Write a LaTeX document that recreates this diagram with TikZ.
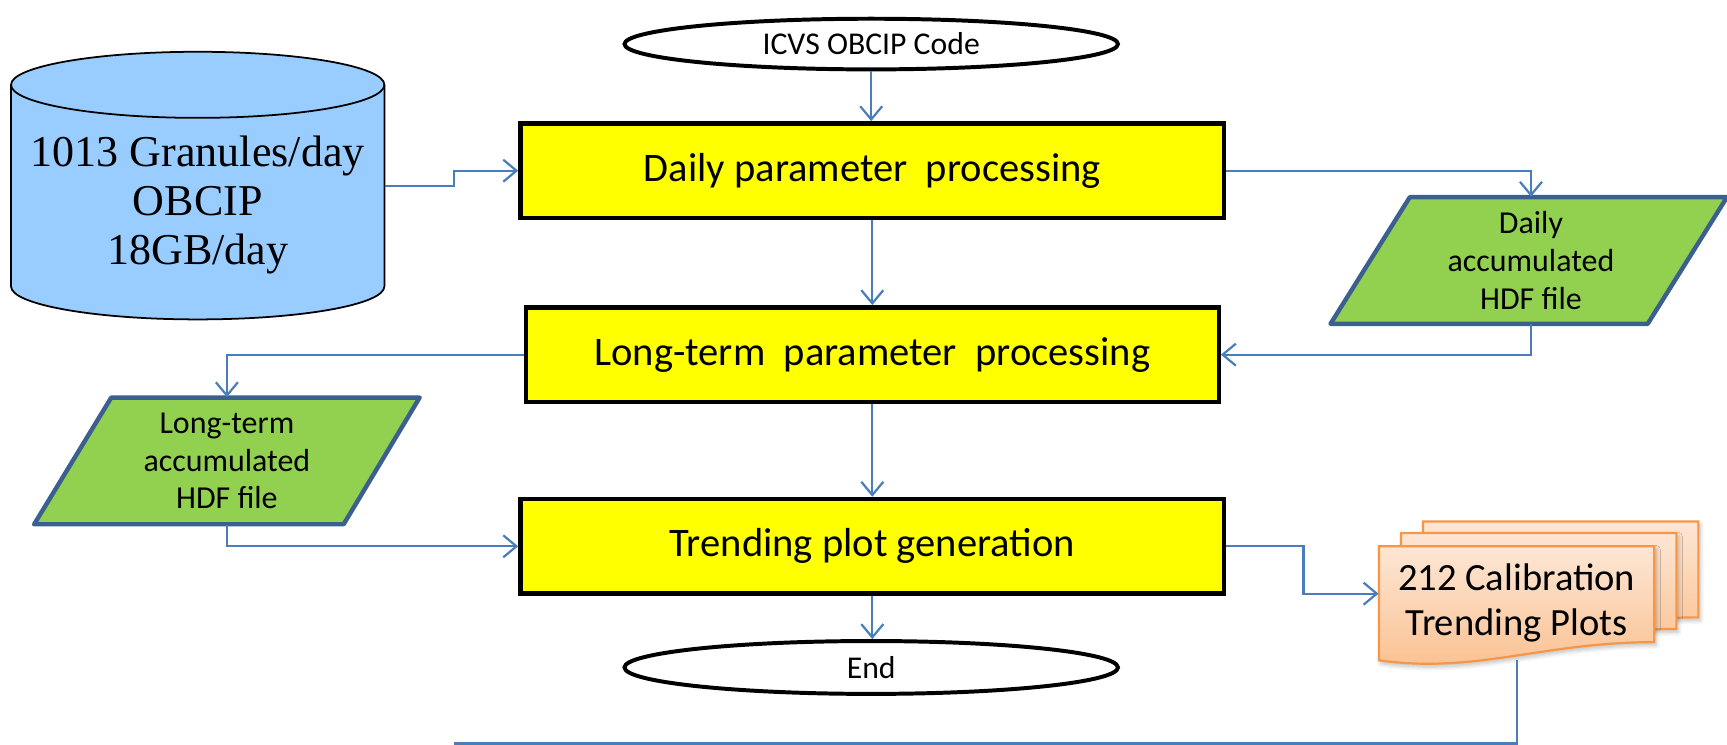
\documentclass[tikz,border=0pt]{standalone}
\usepackage{fontspec}
\setmainfont{Carlito}
\newfontfamily\tnr{Liberation Serif}
\usetikzlibrary{arrows.meta,shapes.geometric,shadows.blur}
\definecolor{arrowblue}{HTML}{4A7EBB}
\definecolor{boxyellow}{HTML}{FFFF00}
\definecolor{dbblue}{HTML}{99CCFF}
\definecolor{paragreen}{HTML}{92D050}
\definecolor{paraedge}{HTML}{3B5F8F}
\definecolor{docedge}{HTML}{F79646}
\definecolor{doctop}{HTML}{FDE6D4}
\definecolor{docbot}{HTML}{FAC08F}
\begin{document}
\begin{tikzpicture}[x=0.5pt,y=-0.5pt,
  procbox/.style={draw=black, line width=2pt, fill=boxyellow, minimum height=43pt, inner sep=0pt, font=\fontsize{18.4}{22}\selectfont},
  term/.style={draw=black, line width=1.8pt, fill=white, ellipse, minimum width=224pt, minimum height=23pt, inner sep=0pt, font=\fontsize{14.4}{17}\selectfont},
  conn/.style={draw=arrowblue, line width=1pt, -{Straight Barb[length=6pt,width=10pt]}},
  plainline/.style={draw=arrowblue, line width=1pt},
  parashape/.style={draw=paraedge, line width=2pt, fill=paragreen, line join=round},
  paratext/.style={align=center, inner sep=0pt, minimum height=57.5pt, font=\fontsize{14.5}{17.2}\selectfont},
  dbshape/.style={draw=black, line width=0.8pt, fill=dbblue},
  dbtext/.style={align=center, inner sep=0pt, minimum width=169.5pt, font=\tnr\fontsize{20}{22.25}\selectfont},
  docshape/.style={draw=docedge, line width=1pt, top color=doctop, bottom color=docbot,
    blur shadow={shadow xshift=0.8pt, shadow yshift=-1.5pt, shadow blur steps=6, shadow opacity=25}},
  doctext/.style={align=center, inner sep=0pt, minimum width=125pt, minimum height=51.5pt, font=\fontsize{17.5}{20.5}\selectfont}
]
\useasboundingbox (0,0) rectangle (1568,676);

% cylinder
\path[dbshape] (10,77) -- (10,260) arc[start angle=180,end angle=360,x radius=84.75pt,y radius=15pt]
  -- (349,77) arc[start angle=0,end angle=180,x radius=84.75pt,y radius=15pt] -- cycle;
\draw[line width=0.8pt] (10,77) arc[start angle=180,end angle=360,x radius=84.75pt,y radius=15pt];
\node[dbtext] (db) at (179.5,186.5) {1013 Granules/day\\OBCIP\\18GB/day};

% terminals
\node[term] (icvs) at (791,40) {ICVS OBCIP Code};
\node[term, minimum height=24pt] (endn) at (791,606) {End};

% process boxes
\node[procbox, minimum width=319.5pt] (box1) at (792,155) {Daily parameter\ \ processing};
\node[procbox, minimum width=314.5pt] (box2) at (792,322) {Long-term\ \ parameter\ \ processing};
\node[procbox, minimum width=319.5pt] (box3) at (792,496) {Trending plot generation};

% parallelograms
\path[parashape] (1280,179) -- (1568,179) -- (1496,294) -- (1208,294) -- cycle;
\node[paratext] (daily) at (1390,236.5) {Daily\\accumulated\\HDF file};
\path[parashape] (101,361) -- (381,361) -- (312,476) -- (31,476) -- cycle;
\node[paratext] (lterm) at (206,418.5) {Long-term\\accumulated\\HDF file};

% multi-document
\foreach \dx/\dy in {40/-22.5, 20/-12, 0/0} {
  \path[docshape] (1252+\dx,496+\dy) -- (1502+\dx,496+\dy) -- (1502+\dx,583+\dy)
    .. controls (1400+\dx,583+\dy) and (1340+\dx,612+\dy) .. (1252+\dx,599.5+\dy) -- cycle;
}
\node[doctext] (doc) at (1377,547.5) {212 Calibration\\Trending Plots};
\coordinate (loopend) at (412,675);

% connectors
\draw[conn] (icvs.south) -- (icvs.south |- box1.north);
\draw[conn] ([yshift=8.75pt]db.east) -- ++(63,0) |- (box1.west);
\draw[conn] (box1.east) -| (daily.north);
\draw[conn] (box1.south) -- (box2.north);
\draw[conn] (daily.south) |- (box2.east);
\draw[conn] (box2.west) -| (lterm.north);
\draw[conn] (box2.south) -- (box3.north);
\draw[conn] (lterm.south) |- (box3.west);
\draw[conn] (box3.south) -- (box3.south |- endn.north);
\draw[conn] (box3.east) -- ++(70,0) |- ([yshift=4.25pt]doc.west);
\draw[plainline] (doc.south) |- (loopend);
\end{tikzpicture}
\end{document}
